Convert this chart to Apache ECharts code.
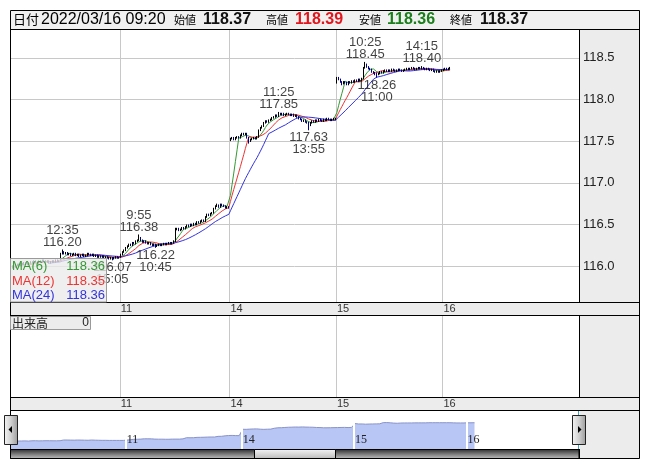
<!DOCTYPE html>
<html><head><meta charset="utf-8">
<script src="https://cdn.jsdelivr.net/npm/echarts@6/dist/echarts.min.js"></script>
<style>html,body{margin:0;padding:0;background:#fff}#c{width:653px;height:470px}</style>
</head><body><div id="c"></div><script>
// ---- data: [open, high, low, close] per 5-minute bar ----
const dayLabels = ['10','11','14','15','16'];
const day10 = [
[115.97,115.99,115.95,115.98],[115.98,116.01,115.97,116.00],[116.00,116.01,115.98,115.99],[115.99,116.02,115.98,116.01],
[116.01,116.03,116.00,116.02],[116.02,116.03,116.00,116.01],[116.01,116.04,116.00,116.03],[116.03,116.04,116.01,116.02],
[116.02,116.05,116.01,116.04],[116.04,116.05,116.02,116.03],[116.03,116.04,116.01,116.02],[116.02,116.05,116.01,116.04],
[116.04,116.06,116.03,116.05],[116.05,116.06,116.03,116.04],[116.04,116.07,116.03,116.06],[116.06,116.07,116.04,116.05],
[116.05,116.06,116.03,116.04],[116.04,116.07,116.03,116.06],[116.06,116.07,116.04,116.05],[116.05,116.08,116.04,116.07],
[116.07,116.08,116.05,116.06],[116.06,116.07,116.04,116.05],[116.05,116.07,116.04,116.06],[116.06,116.07,116.03,116.04],
[116.04,116.06,116.03,116.05],[116.05,116.07,116.04,116.06],[116.06,116.07,116.04,116.05],[116.05,116.08,116.04,116.07],
[116.07,116.08,116.05,116.06],[116.06,116.07,116.05,116.06],
[116.08,116.16,116.07,116.15],[116.15,116.20,116.14,116.17],[116.17,116.18,116.14,116.15],[116.15,116.17,116.14,116.16],
[116.16,116.17,116.13,116.14],[116.14,116.16,116.13,116.15],[116.15,116.16,116.12,116.13],[116.13,116.15,116.12,116.14],
[116.14,116.16,116.13,116.15],[116.15,116.16,116.12,116.13],[116.13,116.15,116.12,116.14],[116.14,116.15,116.11,116.12],
[116.12,116.14,116.11,116.13],[116.13,116.15,116.12,116.14],[116.14,116.15,116.11,116.12],[116.12,116.14,116.11,116.13],
[116.13,116.16,116.12,116.15],[116.15,116.16,116.13,116.14],[116.14,116.15,116.12,116.13],[116.13,116.15,116.12,116.14],
[116.14,116.15,116.11,116.12],[116.12,116.14,116.11,116.13],[116.13,116.14,116.10,116.11],[116.11,116.13,116.10,116.12],
[116.12,116.13,116.10,116.11],[116.11,116.13,116.10,116.12],[116.12,116.13,116.09,116.10],[116.10,116.12,116.09,116.11],
[116.11,116.12,116.09,116.10],[116.10,116.11,116.08,116.09],[116.09,116.11,116.08,116.10],[116.10,116.11,116.07,116.09],
[116.09,116.11,116.08,116.10],[116.10,116.12,116.09,116.11],[116.11,116.12,116.09,116.10],[116.10,116.11,116.09,116.10]
];
const day11 = [
[116.11,116.15,116.10,116.14],[116.14,116.18,116.13,116.17],[116.17,116.20,116.16,116.19],[116.19,116.23,116.18,116.22],
[116.22,116.25,116.21,116.24],[116.24,116.27,116.23,116.26],[116.26,116.27,116.24,116.25],[116.25,116.29,116.24,116.28],
[116.28,116.29,116.26,116.27],[116.27,116.31,116.26,116.30],[116.30,116.32,116.29,116.31],[116.31,116.38,116.30,116.34],
[116.34,116.35,116.30,116.31],[116.31,116.32,116.28,116.29],[116.29,116.31,116.28,116.30],[116.30,116.31,116.27,116.28],
[116.28,116.29,116.26,116.27],[116.27,116.29,116.26,116.28],[116.28,116.29,116.25,116.26],[116.26,116.27,116.24,116.25],
[116.25,116.27,116.24,116.26],[116.26,116.27,116.22,116.24],[116.24,116.26,116.23,116.25],[116.25,116.27,116.24,116.26],
[116.26,116.27,116.24,116.25],[116.25,116.27,116.24,116.26],[116.26,116.28,116.25,116.27],[116.27,116.28,116.25,116.26],
[116.26,116.28,116.25,116.27],[116.27,116.29,116.26,116.28],
[116.28,116.29,116.26,116.27],[116.27,116.29,116.26,116.28],[116.28,116.31,116.27,116.30],[116.30,116.46,116.29,116.44],
[116.44,116.46,116.43,116.45],[116.45,116.46,116.42,116.43],[116.43,116.45,116.42,116.44],[116.44,116.47,116.43,116.46],
[116.46,116.47,116.44,116.45],[116.45,116.48,116.44,116.47],[116.47,116.50,116.46,116.49],[116.49,116.50,116.47,116.48],
[116.48,116.51,116.47,116.50],[116.50,116.51,116.48,116.49],[116.49,116.52,116.48,116.51],[116.51,116.52,116.49,116.50],
[116.50,116.54,116.49,116.53],[116.53,116.54,116.51,116.52],[116.52,116.55,116.51,116.54],[116.54,116.56,116.53,116.55],
[116.55,116.56,116.53,116.54],[116.54,116.60,116.53,116.59],[116.59,116.63,116.58,116.62],[116.62,116.63,116.60,116.61],
[116.61,116.64,116.60,116.63],[116.63,116.65,116.62,116.64],[116.64,116.70,116.63,116.69],[116.69,116.73,116.68,116.72],
[116.72,116.75,116.71,116.73],[116.73,116.74,116.70,116.71],[116.71,116.75,116.70,116.74],[116.74,116.75,116.72,116.73],
[116.73,116.74,116.71,116.72],[116.72,116.73,116.69,116.70],[116.70,116.72,116.69,116.71],[116.71,116.72,116.69,116.70]
];
const day14 = [
[117.52,117.54,117.50,117.53],[117.53,117.55,117.52,117.54],[117.54,117.55,117.51,117.52],[117.52,117.55,117.51,117.54],
[117.54,117.56,117.53,117.55],[117.55,117.56,117.53,117.54],[117.54,117.58,117.53,117.57],[117.57,117.60,117.56,117.59],
[117.59,117.60,117.57,117.58],[117.58,117.60,117.57,117.59],[117.59,117.60,117.53,117.54],[117.54,117.55,117.47,117.50],
[117.50,117.53,117.49,117.52],[117.52,117.54,117.51,117.53],[117.53,117.55,117.52,117.54],[117.54,117.55,117.52,117.53],
[117.53,117.56,117.52,117.55],[117.55,117.64,117.54,117.63],[117.63,117.67,117.62,117.66],[117.66,117.69,117.65,117.68],
[117.68,117.73,117.67,117.72],[117.72,117.75,117.71,117.74],[117.74,117.75,117.72,117.73],[117.73,117.76,117.72,117.75],
[117.75,117.77,117.74,117.76],[117.76,117.79,117.75,117.78],[117.78,117.80,117.77,117.79],[117.79,117.82,117.78,117.81],
[117.81,117.82,117.79,117.80],[117.80,117.85,117.79,117.83],
[117.83,117.84,117.81,117.82],[117.82,117.84,117.81,117.83],[117.83,117.84,117.80,117.81],[117.81,117.83,117.80,117.82],
[117.82,117.84,117.81,117.83],[117.83,117.84,117.81,117.82],[117.82,117.83,117.80,117.81],[117.81,117.83,117.80,117.82],
[117.82,117.83,117.79,117.80],[117.80,117.82,117.79,117.81],[117.81,117.82,117.78,117.79],[117.79,117.80,117.76,117.77],
[117.77,117.78,117.75,117.76],[117.76,117.77,117.73,117.74],[117.74,117.76,117.73,117.75],[117.75,117.76,117.72,117.73],
[117.73,117.74,117.71,117.72],[117.72,117.73,117.63,117.69],[117.69,117.73,117.68,117.72],[117.72,117.75,117.71,117.74],
[117.74,117.75,117.72,117.73],[117.73,117.76,117.72,117.75],[117.75,117.76,117.73,117.74],[117.74,117.77,117.73,117.76],
[117.76,117.77,117.74,117.75],[117.75,117.76,117.73,117.74],[117.74,117.77,117.73,117.76],[117.76,117.77,117.74,117.75],
[117.75,117.78,117.74,117.77],[117.77,117.78,117.75,117.76],[117.76,117.77,117.74,117.75],[117.75,117.77,117.74,117.76],
[117.76,117.78,117.75,117.77],[117.77,117.78,117.75,117.77]
];
const day15 = [
[118.21,118.27,118.19,118.26],[118.26,118.27,118.23,118.24],[118.24,118.25,118.20,118.21],[118.21,118.22,118.17,118.19],
[118.19,118.22,118.18,118.21],[118.21,118.22,118.19,118.20],[118.20,118.21,118.17,118.18],[118.18,118.22,118.17,118.21],
[118.21,118.22,118.19,118.20],[118.20,118.23,118.19,118.22],[118.22,118.23,118.20,118.21],[118.21,118.24,118.20,118.23],
[118.23,118.24,118.21,118.22],[118.22,118.25,118.21,118.24],[118.24,118.25,118.22,118.23],[118.23,118.26,118.22,118.25],
[118.25,118.39,118.24,118.38],[118.38,118.45,118.37,118.42],[118.42,118.43,118.38,118.39],[118.39,118.40,118.36,118.37],
[118.37,118.38,118.35,118.36],[118.36,118.37,118.32,118.33],[118.33,118.34,118.31,118.32],[118.32,118.33,118.29,118.31],
[118.31,118.32,118.26,118.30],[118.30,118.32,118.29,118.31],[118.31,118.34,118.30,118.33],[118.33,118.34,118.31,118.32],
[118.32,118.35,118.31,118.34],[118.34,118.36,118.33,118.35],
[118.35,118.36,118.33,118.34],[118.34,118.36,118.33,118.35],[118.35,118.36,118.33,118.34],[118.34,118.37,118.33,118.36],
[118.36,118.37,118.34,118.35],[118.35,118.36,118.33,118.34],[118.34,118.36,118.33,118.35],[118.35,118.37,118.34,118.36],
[118.36,118.37,118.34,118.35],[118.35,118.36,118.33,118.34],[118.34,118.36,118.33,118.35],[118.35,118.37,118.34,118.36],
[118.36,118.38,118.35,118.37],[118.37,118.38,118.35,118.36],[118.36,118.38,118.35,118.37],[118.37,118.39,118.36,118.38],
[118.38,118.39,118.36,118.37],[118.37,118.38,118.35,118.36],[118.36,118.38,118.35,118.37],[118.37,118.39,118.36,118.38],
[118.38,118.39,118.36,118.37],[118.37,118.40,118.36,118.38],[118.38,118.39,118.36,118.37],[118.37,118.38,118.35,118.36],
[118.36,118.38,118.35,118.37],[118.37,118.38,118.35,118.36],[118.36,118.37,118.34,118.35],[118.35,118.37,118.34,118.36],
[118.36,118.37,118.33,118.34],[118.34,118.35,118.32,118.33],[118.33,118.35,118.32,118.34],[118.34,118.35,118.32,118.33],
[118.33,118.35,118.32,118.34],[118.34,118.36,118.33,118.35]
];
const day16 = [
[118.35,118.37,118.34,118.36],[118.36,118.38,118.35,118.37],[118.37,118.38,118.35,118.36],[118.36,118.38,118.35,118.37],
[118.37,118.39,118.36,118.37]
];
// high / low annotations: [bar index, kind, time]
const annotations = [
  [31,'high','12:35'],[61,'low','15:05'],[77,'high','9:55'],[87,'low','10:45'],
  [161,'high','11:25'],[179,'low','13:55'],[213,'high','10:25'],[220,'low','11:00'],[247,'high','14:15']
];
const yTicks = [116.0,116.5,117.0,117.5,118.0,118.5];
const maPeriods = [6,12,24];
const lastTime = '2022/03/16 09:20';
const lastVolume = 0;

// ---- build ----
const days = [day10, day11, day14, day15, day16];
const ohlc = [], cats = [], dayStart = new Set();
days.forEach((d,k)=>{ dayStart.add(ohlc.length); d.forEach((b,i)=>{ ohlc.push(b); cats.push(dayLabels[k]+'-'+i); }); });
const MAIN_SLOTS = 342, NAV_SLOTS = 324;
const mainCats = cats.slice(); while (mainCats.length < MAIN_SLOTS) mainCats.push('x-'+mainCats.length);
const navCats = cats.slice(); while (navCats.length < NAV_SLOTS) navCats.push('x-'+navCats.length);
const closes = ohlc.map(b=>b[3]);
const candle = ohlc.map(b=>[b[0],b[3],b[2],b[1]]);
function ma(n){ return closes.map((c,i)=> i<n-1 ? '-' : +(closes.slice(i-n+1,i+1).reduce((a,b)=>a+b,0)/n).toFixed(4)); }
const maData = maPeriods.map(ma);
const maColors = ['#339933','#ee3333','#3333dd'];
const isDay = (idx)=> idx>0 && dayStart.has(idx);
const dayOf = (v)=> v.split('-')[0];

const SANS = '"Liberation Sans", Arial, sans-serif';
const SERIF = '"Liberation Serif", serif';
const JP = '"Noto Sans CJK JP", sans-serif';
const GRID = '#c8c8c8', GREY = '#ececec';

function xCat(gi, data, labelOpt, splitColor, splitW, z){
  return { type:'category', gridIndex:gi, data, boundaryGap:true, z,
    axisLine:{show:false}, axisTick:{show:false},
    axisLabel: Object.assign({interval:(i)=>isDay(i), formatter:dayOf, align:'left', fontSize:11, color:'#333', fontFamily:SANS}, labelOpt),
    splitLine:{show:true, interval:(i)=>isDay(i), lineStyle:{color:splitColor, width:splitW}} };
}

// ---- decorations ----
const g = [];
const R = (x,y,w,h,fill,z,stroke)=> g.push({type:'rect',silent:true,z,shape:{x,y,width:w,height:h},style:{fill,stroke:stroke||null,lineWidth:1}});
const L = (x1,y1,x2,y2,stroke,z)=> g.push({type:'line',silent:true,z:z||30,shape:{x1,y1,x2,y2},style:{stroke:stroke||'#000',lineWidth:1}});
const T = (text,x,y,st,z)=> g.push({type:'text',silent:true,z:z||45,style:Object.assign({text,x,y,fill:'#000',fontSize:13,fontFamily:SANS,verticalAlign:'middle',align:'left'},st||{})});
const lin = (x,y,x2,y2,c)=>({type:'linear',x,y,x2,y2,colorStops:c.map((col,i)=>({offset:i/(c.length-1),color:col}))});

R(10,10,630,19,'#f0f0f0',0);
R(579,29,61,273,GREY,0);
R(10,302,630,14,GREY,0);
R(579,316,61,81,GREY,0);
R(10,397,630,13,GREY,0);
R(579,410,61,49,GREY,0);
// scrollbar
R(10.5,449.5,568.5,9,lin(0,0,0,1,['#2a2a2a','#7a7a7a','#c4c4c4']),30,'#000');
R(254.5,449.5,81,9,lin(0,0,0,1,['#f4f4f4','#d8d8d8','#b8b8b8']),31,'#000');
// frame lines
[29.5,302.5,315.5,397.5,410.5].forEach(y=>L(10,y,640,y));
L(10,449.5,579,449.5);
L(579.5,29,579.5,302); L(579.5,316,579.5,397); L(579.5,449,579.5,459);
L(10.5,411,10.5,449,'#3aa6b8',32); L(578.5,411,578.5,449,'#3aa6b8',32);
g.push({type:'rect',silent:true,z:33,shape:{x:10.5,y:10.5,width:629,height:448},style:{fill:null,stroke:'#000',lineWidth:1}});
// handles
R(4.5,415.5,13,29,lin(0,0,1,0,['#f6f6f6','#d0d0d0','#9a9a9a']),40,'#222');
R(572.5,415.5,13,29,lin(0,0,1,0,['#f6f6f6','#d0d0d0','#9a9a9a']),40,'#222');
g.push({type:'polygon',silent:true,z:41,shape:{points:[[8.5,429.5],[12,426],[12,433]]},style:{fill:'#000'}});
g.push({type:'polygon',silent:true,z:41,shape:{points:[[581.5,429.5],[578,426],[578,433]]},style:{fill:'#000'}});

// header
const last = ohlc[ohlc.length-1];
T('日付',13,19.5,{fontFamily:JP,fontSize:13});
T(lastTime,41,19.5,{fontSize:16});
T('始値',174,20,{fontFamily:JP,fontSize:11});
T(last[0].toFixed(2),203,19.5,{fontSize:16,fontWeight:'bold',fill:'#111'});
T('高値',266,20,{fontFamily:JP,fontSize:11});
T(last[1].toFixed(2),295,19.5,{fontSize:16,fontWeight:'bold',fill:'#e3161d'});
T('安値',359,20,{fontFamily:JP,fontSize:11});
T(last[2].toFixed(2),387,19.5,{fontSize:16,fontWeight:'bold',fill:'#1b7f1b'});
T('終値',450,20,{fontFamily:JP,fontSize:11});
T(last[3].toFixed(2),480,19.5,{fontSize:16,fontWeight:'bold',fill:'#111'});

// MA legend box
R(10.5,258.5,96,43.5,'rgba(234,234,234,0.78)',40,'#9a9a9a');
maPeriods.forEach((n,k)=>{
  const y = 266.5 + k*14.5;
  const v = maData[k][maData[k].length-1];
  T('MA('+n+')',12,y,{fill:maColors[k],fontSize:13});
  T(v.toFixed(2),105,y,{fill:maColors[k],fontSize:13,align:'right'});
});
// volume label box
R(10.5,316.5,80,13,GREY,40,'#9a9a9a');
T('出来高',12,323,{fontFamily:JP,fontSize:12,fill:'#222'});
T(String(lastVolume),89,323,{fontSize:12,align:'right',fill:'#222'});

const annData = annotations.map(([i,kind,time])=>{
  const v = kind==='high' ? ohlc[i][1] : ohlc[i][2];
  return { value:[i,v], label:{ position: kind==='high'?'top':'bottom',
    formatter: kind==='high' ? time+'\n'+v.toFixed(2) : v.toFixed(2)+'\n'+time } };
});

const option = {
  animation:false,
  backgroundColor:'#ffffff',
  grid:[
    {left:10, top:29, width:569, height:273},
    {left:10, top:316, width:569, height:81},
    {left:10, top:410, width:569, height:39}
  ],
  xAxis:[
    xCat(0, mainCats, {margin:1}, GRID, 1, 1),
    xCat(1, mainCats, {margin:1}, GRID, 1, 1),
    xCat(2, navCats, {inside:true, margin:3, fontFamily:SERIF, fontSize:12, color:'#222'}, '#ffffff', 2, 5)
  ],
  yAxis:[
    { type:'value', gridIndex:0, position:'right', min:115.57, max:118.845, z:1,
      axisLine:{show:false}, axisTick:{show:false, customValues:yTicks},
      axisLabel:{customValues:yTicks, formatter:(v)=>v.toFixed(1), margin:4, fontSize:13, color:'#222', fontFamily:SANS},
      splitLine:{show:true, lineStyle:{color:GRID}} },
    { type:'value', gridIndex:1, min:0, max:1, show:false },
    { type:'value', gridIndex:2, min:115, max:120, show:false }
  ],
  series:[
    ...maPeriods.map((n,k)=>({ type:'line', name:'MA('+n+')', xAxisIndex:0, yAxisIndex:0, data:maData[k],
      showSymbol:false, symbol:'none', z:2, lineStyle:{color:maColors[k], width:1}, silent:true })),
    { type:'candlestick', xAxisIndex:0, yAxisIndex:0, data:candle, z:3, silent:true,
      itemStyle:{color:'#000000', color0:'#000080', borderColor:'#000000', borderColor0:'#000080', borderWidth:1} },
    { type:'scatter', xAxisIndex:0, yAxisIndex:0, data:annData, symbolSize:1, z:4, silent:true,
      itemStyle:{color:'rgba(0,0,0,0)'},
      label:{show:true, distance:1, fontSize:13, lineHeight:12, color:'#111', fontFamily:SANS, align:'center'} },
    { type:'line', xAxisIndex:2, yAxisIndex:2, data:closes, showSymbol:false, symbol:'none', z:2, silent:true,
      lineStyle:{color:'#8a93c8', width:1}, areaStyle:{color:'#b8c6f6', opacity:1} }
  ],
  graphic:{elements:g}
};
const chart = echarts.init(document.getElementById('c'), null, {renderer:'canvas'});
chart.setOption(option);
</script></body></html>
